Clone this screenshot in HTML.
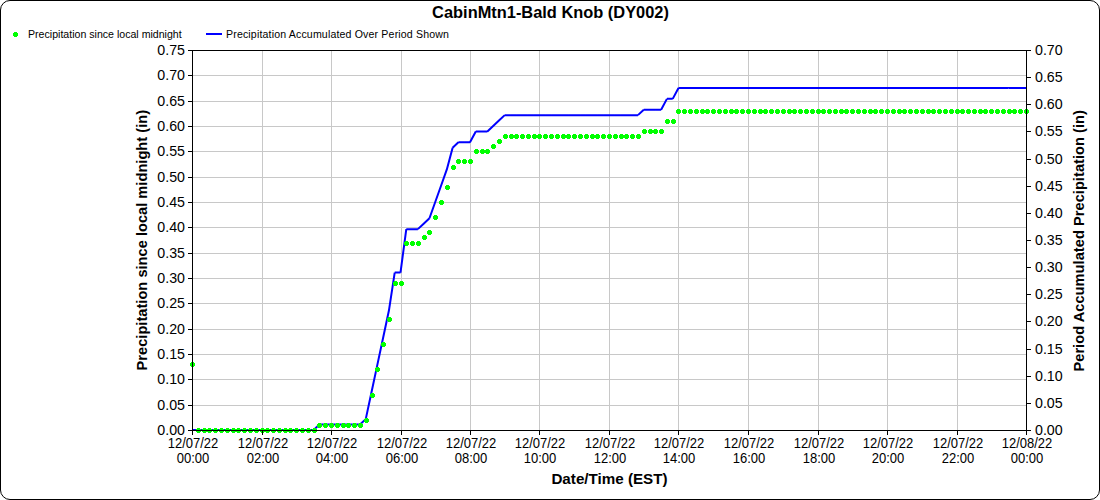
<!DOCTYPE html><html><head><meta charset="utf-8"><style>html,body{margin:0;padding:0;background:#fff;overflow:hidden;}svg{display:block;}text{font-family:"Liberation Sans", sans-serif;}</style></head><body>
<svg width="1100" height="500" viewBox="0 0 1100 500">
<rect x="0" y="0" width="1100" height="500" fill="#fff"/>
<rect x="0.5" y="0.5" width="1099" height="499" rx="9.5" ry="9.5" fill="none" stroke="#000" stroke-width="1" shape-rendering="auto"/>
<text x="550.5" y="18" text-anchor="middle" font-size="16.4" font-weight="bold" fill="#000">CabinMtn1-Bald Knob (DY002)</text>
<path d="M14 32h3v1h1v3h-1v1h-3v-1h-1v-3h1z" fill="#00ff00" shape-rendering="crispEdges"/>
<text x="28" y="38" font-size="10.6" fill="#000">Precipitation since local midnight</text>
<rect x="206" y="33" width="16" height="2" fill="#0000ff"/>
<text x="226" y="38" font-size="10.6" fill="#000" textLength="223" lengthAdjust="spacing">Precipitation Accumulated Over Period Shown</text>
<path d="M192 405.5H1026M192 379.5H1026M192 354.5H1026M192 329.5H1026M192 303.5H1026M192 278.5H1026M192 253.5H1026M192 227.5H1026M192 202.5H1026M192 177.5H1026M192 151.5H1026M192 126.5H1026M192 101.5H1026M192 75.5H1026M262.5 50V430M331.5 50V430M401.5 50V430M470.5 50V430M539.5 50V430M609.5 50V430M678.5 50V430M748.5 50V430M818.5 50V430M887.5 50V430M957.5 50V430" stroke="#c8c8c8" stroke-width="1" fill="none" shape-rendering="crispEdges"/>
<path d="M192.000 430.000L197.792 430.000M197.792 430.000L203.583 430.000M203.583 430.000L209.375 430.000M209.375 430.000L215.167 430.000M215.167 430.000L220.958 430.000M220.958 430.000L226.750 430.000M226.750 430.000L232.542 430.000M232.542 430.000L238.333 430.000M238.333 430.000L244.125 430.000M244.125 430.000L249.917 430.000M249.917 430.000L255.708 430.000M255.708 430.000L261.500 430.000M261.500 430.000L267.292 430.000M267.292 430.000L273.083 430.000M273.083 430.000L278.875 430.000M278.875 430.000L284.667 430.000M284.667 430.000L290.458 430.000M290.458 430.000L296.250 430.000M296.250 430.000L302.042 430.000M302.042 430.000L307.833 430.000M307.833 430.000L313.625 430.000M313.625 430.000L319.417 424.571M319.417 424.571L325.208 424.571M325.208 424.571L331.000 424.571M331.000 424.571L336.792 424.571M336.792 424.571L342.583 424.571M342.583 424.571L348.375 424.571M348.375 424.571L354.167 424.571M354.167 424.571L359.958 424.571M359.958 424.571L365.750 419.143M365.750 419.143L371.542 392.000M371.542 392.000L377.333 364.857M377.333 364.857L383.125 337.714M383.125 337.714L388.917 310.571M388.917 310.571L394.708 272.571M394.708 272.571L400.500 272.571M400.500 272.571L406.292 229.143M406.292 229.143L412.083 229.143M412.083 229.143L417.875 229.143M417.875 229.143L423.667 223.714M423.667 223.714L429.458 218.286M429.458 218.286L435.250 202.000M435.250 202.000L441.042 185.714M441.042 185.714L446.833 169.429M446.833 169.429L452.625 147.714M452.625 147.714L458.417 142.286M458.417 142.286L464.208 142.286M464.208 142.286L470.000 142.286M470.000 142.286L475.792 131.429M475.792 131.429L481.583 131.429M481.583 131.429L487.375 131.429M487.375 131.429L493.167 126.000M493.167 126.000L498.958 120.571M498.958 120.571L504.750 115.143M504.750 115.143L510.542 115.143M510.542 115.143L516.333 115.143M516.333 115.143L522.125 115.143M522.125 115.143L527.917 115.143M527.917 115.143L533.708 115.143M533.708 115.143L539.500 115.143M539.500 115.143L545.292 115.143M545.292 115.143L551.083 115.143M551.083 115.143L556.875 115.143M556.875 115.143L562.667 115.143M562.667 115.143L568.458 115.143M568.458 115.143L574.250 115.143M574.250 115.143L580.042 115.143M580.042 115.143L585.833 115.143M585.833 115.143L591.625 115.143M591.625 115.143L597.417 115.143M597.417 115.143L603.208 115.143M603.208 115.143L609.000 115.143M609.000 115.143L614.792 115.143M614.792 115.143L620.583 115.143M620.583 115.143L626.375 115.143M626.375 115.143L632.167 115.143M632.167 115.143L637.958 115.143M637.958 115.143L643.750 109.714M643.750 109.714L649.542 109.714M649.542 109.714L655.333 109.714M655.333 109.714L661.125 109.714M661.125 109.714L666.917 98.857M666.917 98.857L672.708 98.857M672.708 98.857L678.500 88.000M678.500 88.000L684.292 88.000M684.292 88.000L690.083 88.000M690.083 88.000L695.875 88.000M695.875 88.000L701.667 88.000M701.667 88.000L707.458 88.000M707.458 88.000L713.250 88.000M713.250 88.000L719.042 88.000M719.042 88.000L724.833 88.000M724.833 88.000L730.625 88.000M730.625 88.000L736.417 88.000M736.417 88.000L742.208 88.000M742.208 88.000L748.000 88.000M748.000 88.000L753.792 88.000M753.792 88.000L759.583 88.000M759.583 88.000L765.375 88.000M765.375 88.000L771.167 88.000M771.167 88.000L776.958 88.000M776.958 88.000L782.750 88.000M782.750 88.000L788.542 88.000M788.542 88.000L794.333 88.000M794.333 88.000L800.125 88.000M800.125 88.000L805.917 88.000M805.917 88.000L811.708 88.000M811.708 88.000L817.500 88.000M817.500 88.000L823.292 88.000M823.292 88.000L829.083 88.000M829.083 88.000L834.875 88.000M834.875 88.000L840.667 88.000M840.667 88.000L846.458 88.000M846.458 88.000L852.250 88.000M852.250 88.000L858.042 88.000M858.042 88.000L863.833 88.000M863.833 88.000L869.625 88.000M869.625 88.000L875.417 88.000M875.417 88.000L881.208 88.000M881.208 88.000L887.000 88.000M887.000 88.000L892.792 88.000M892.792 88.000L898.583 88.000M898.583 88.000L904.375 88.000M904.375 88.000L910.167 88.000M910.167 88.000L915.958 88.000M915.958 88.000L921.750 88.000M921.750 88.000L927.542 88.000M927.542 88.000L933.333 88.000M933.333 88.000L939.125 88.000M939.125 88.000L944.917 88.000M944.917 88.000L950.708 88.000M950.708 88.000L956.500 88.000M956.500 88.000L962.292 88.000M962.292 88.000L968.083 88.000M968.083 88.000L973.875 88.000M973.875 88.000L979.667 88.000M979.667 88.000L985.458 88.000M985.458 88.000L991.250 88.000M991.250 88.000L997.042 88.000M997.042 88.000L1002.833 88.000M1002.833 88.000L1008.625 88.000M1008.625 88.000L1014.417 88.000M1014.417 88.000L1020.208 88.000M1020.208 88.000L1026.000 88.000" fill="none" stroke="#0000ff" stroke-width="2" stroke-linecap="butt" stroke-linejoin="miter"/>
<path d="M191 362h3v1h1v3h-1v1h-3v-1h-1v-3h1zM197 428h3v1h1v3h-1v1h-3v-1h-1v-3h1zM203 428h3v1h1v3h-1v1h-3v-1h-1v-3h1zM208 428h3v1h1v3h-1v1h-3v-1h-1v-3h1zM214 428h3v1h1v3h-1v1h-3v-1h-1v-3h1zM220 428h3v1h1v3h-1v1h-3v-1h-1v-3h1zM226 428h3v1h1v3h-1v1h-3v-1h-1v-3h1zM232 428h3v1h1v3h-1v1h-3v-1h-1v-3h1zM237 428h3v1h1v3h-1v1h-3v-1h-1v-3h1zM243 428h3v1h1v3h-1v1h-3v-1h-1v-3h1zM249 428h3v1h1v3h-1v1h-3v-1h-1v-3h1zM255 428h3v1h1v3h-1v1h-3v-1h-1v-3h1zM261 428h3v1h1v3h-1v1h-3v-1h-1v-3h1zM266 428h3v1h1v3h-1v1h-3v-1h-1v-3h1zM272 428h3v1h1v3h-1v1h-3v-1h-1v-3h1zM278 428h3v1h1v3h-1v1h-3v-1h-1v-3h1zM284 428h3v1h1v3h-1v1h-3v-1h-1v-3h1zM289 428h3v1h1v3h-1v1h-3v-1h-1v-3h1zM295 428h3v1h1v3h-1v1h-3v-1h-1v-3h1zM301 428h3v1h1v3h-1v1h-3v-1h-1v-3h1zM307 428h3v1h1v3h-1v1h-3v-1h-1v-3h1zM313 428h3v1h1v3h-1v1h-3v-1h-1v-3h1zM318 423h3v1h1v3h-1v1h-3v-1h-1v-3h1zM324 423h3v1h1v3h-1v1h-3v-1h-1v-3h1zM330 423h3v1h1v3h-1v1h-3v-1h-1v-3h1zM336 423h3v1h1v3h-1v1h-3v-1h-1v-3h1zM342 423h3v1h1v3h-1v1h-3v-1h-1v-3h1zM347 423h3v1h1v3h-1v1h-3v-1h-1v-3h1zM353 423h3v1h1v3h-1v1h-3v-1h-1v-3h1zM359 423h3v1h1v3h-1v1h-3v-1h-1v-3h1zM365 418h3v1h1v3h-1v1h-3v-1h-1v-3h1zM371 393h3v1h1v3h-1v1h-3v-1h-1v-3h1zM376 367h3v1h1v3h-1v1h-3v-1h-1v-3h1zM382 342h3v1h1v3h-1v1h-3v-1h-1v-3h1zM388 317h3v1h1v3h-1v1h-3v-1h-1v-3h1zM394 281h3v1h1v3h-1v1h-3v-1h-1v-3h1zM400 281h3v1h1v3h-1v1h-3v-1h-1v-3h1zM405 241h3v1h1v3h-1v1h-3v-1h-1v-3h1zM411 241h3v1h1v3h-1v1h-3v-1h-1v-3h1zM417 241h3v1h1v3h-1v1h-3v-1h-1v-3h1zM423 235h3v1h1v3h-1v1h-3v-1h-1v-3h1zM428 230h3v1h1v3h-1v1h-3v-1h-1v-3h1zM434 215h3v1h1v3h-1v1h-3v-1h-1v-3h1zM440 200h3v1h1v3h-1v1h-3v-1h-1v-3h1zM446 185h3v1h1v3h-1v1h-3v-1h-1v-3h1zM452 165h3v1h1v3h-1v1h-3v-1h-1v-3h1zM457 159h3v1h1v3h-1v1h-3v-1h-1v-3h1zM463 159h3v1h1v3h-1v1h-3v-1h-1v-3h1zM469 159h3v1h1v3h-1v1h-3v-1h-1v-3h1zM475 149h3v1h1v3h-1v1h-3v-1h-1v-3h1zM481 149h3v1h1v3h-1v1h-3v-1h-1v-3h1zM486 149h3v1h1v3h-1v1h-3v-1h-1v-3h1zM492 144h3v1h1v3h-1v1h-3v-1h-1v-3h1zM498 139h3v1h1v3h-1v1h-3v-1h-1v-3h1zM504 134h3v1h1v3h-1v1h-3v-1h-1v-3h1zM510 134h3v1h1v3h-1v1h-3v-1h-1v-3h1zM515 134h3v1h1v3h-1v1h-3v-1h-1v-3h1zM521 134h3v1h1v3h-1v1h-3v-1h-1v-3h1zM527 134h3v1h1v3h-1v1h-3v-1h-1v-3h1zM533 134h3v1h1v3h-1v1h-3v-1h-1v-3h1zM538 134h3v1h1v3h-1v1h-3v-1h-1v-3h1zM544 134h3v1h1v3h-1v1h-3v-1h-1v-3h1zM550 134h3v1h1v3h-1v1h-3v-1h-1v-3h1zM556 134h3v1h1v3h-1v1h-3v-1h-1v-3h1zM562 134h3v1h1v3h-1v1h-3v-1h-1v-3h1zM567 134h3v1h1v3h-1v1h-3v-1h-1v-3h1zM573 134h3v1h1v3h-1v1h-3v-1h-1v-3h1zM579 134h3v1h1v3h-1v1h-3v-1h-1v-3h1zM585 134h3v1h1v3h-1v1h-3v-1h-1v-3h1zM591 134h3v1h1v3h-1v1h-3v-1h-1v-3h1zM596 134h3v1h1v3h-1v1h-3v-1h-1v-3h1zM602 134h3v1h1v3h-1v1h-3v-1h-1v-3h1zM608 134h3v1h1v3h-1v1h-3v-1h-1v-3h1zM614 134h3v1h1v3h-1v1h-3v-1h-1v-3h1zM620 134h3v1h1v3h-1v1h-3v-1h-1v-3h1zM625 134h3v1h1v3h-1v1h-3v-1h-1v-3h1zM631 134h3v1h1v3h-1v1h-3v-1h-1v-3h1zM637 134h3v1h1v3h-1v1h-3v-1h-1v-3h1zM643 129h3v1h1v3h-1v1h-3v-1h-1v-3h1zM649 129h3v1h1v3h-1v1h-3v-1h-1v-3h1zM654 129h3v1h1v3h-1v1h-3v-1h-1v-3h1zM660 129h3v1h1v3h-1v1h-3v-1h-1v-3h1zM666 119h3v1h1v3h-1v1h-3v-1h-1v-3h1zM672 119h3v1h1v3h-1v1h-3v-1h-1v-3h1zM677 109h3v1h1v3h-1v1h-3v-1h-1v-3h1zM683 109h3v1h1v3h-1v1h-3v-1h-1v-3h1zM689 109h3v1h1v3h-1v1h-3v-1h-1v-3h1zM695 109h3v1h1v3h-1v1h-3v-1h-1v-3h1zM701 109h3v1h1v3h-1v1h-3v-1h-1v-3h1zM706 109h3v1h1v3h-1v1h-3v-1h-1v-3h1zM712 109h3v1h1v3h-1v1h-3v-1h-1v-3h1zM718 109h3v1h1v3h-1v1h-3v-1h-1v-3h1zM724 109h3v1h1v3h-1v1h-3v-1h-1v-3h1zM730 109h3v1h1v3h-1v1h-3v-1h-1v-3h1zM735 109h3v1h1v3h-1v1h-3v-1h-1v-3h1zM741 109h3v1h1v3h-1v1h-3v-1h-1v-3h1zM747 109h3v1h1v3h-1v1h-3v-1h-1v-3h1zM753 109h3v1h1v3h-1v1h-3v-1h-1v-3h1zM759 109h3v1h1v3h-1v1h-3v-1h-1v-3h1zM764 109h3v1h1v3h-1v1h-3v-1h-1v-3h1zM770 109h3v1h1v3h-1v1h-3v-1h-1v-3h1zM776 109h3v1h1v3h-1v1h-3v-1h-1v-3h1zM782 109h3v1h1v3h-1v1h-3v-1h-1v-3h1zM788 109h3v1h1v3h-1v1h-3v-1h-1v-3h1zM793 109h3v1h1v3h-1v1h-3v-1h-1v-3h1zM799 109h3v1h1v3h-1v1h-3v-1h-1v-3h1zM805 109h3v1h1v3h-1v1h-3v-1h-1v-3h1zM811 109h3v1h1v3h-1v1h-3v-1h-1v-3h1zM817 109h3v1h1v3h-1v1h-3v-1h-1v-3h1zM822 109h3v1h1v3h-1v1h-3v-1h-1v-3h1zM828 109h3v1h1v3h-1v1h-3v-1h-1v-3h1zM834 109h3v1h1v3h-1v1h-3v-1h-1v-3h1zM840 109h3v1h1v3h-1v1h-3v-1h-1v-3h1zM845 109h3v1h1v3h-1v1h-3v-1h-1v-3h1zM851 109h3v1h1v3h-1v1h-3v-1h-1v-3h1zM857 109h3v1h1v3h-1v1h-3v-1h-1v-3h1zM863 109h3v1h1v3h-1v1h-3v-1h-1v-3h1zM869 109h3v1h1v3h-1v1h-3v-1h-1v-3h1zM874 109h3v1h1v3h-1v1h-3v-1h-1v-3h1zM880 109h3v1h1v3h-1v1h-3v-1h-1v-3h1zM886 109h3v1h1v3h-1v1h-3v-1h-1v-3h1zM892 109h3v1h1v3h-1v1h-3v-1h-1v-3h1zM898 109h3v1h1v3h-1v1h-3v-1h-1v-3h1zM903 109h3v1h1v3h-1v1h-3v-1h-1v-3h1zM909 109h3v1h1v3h-1v1h-3v-1h-1v-3h1zM915 109h3v1h1v3h-1v1h-3v-1h-1v-3h1zM921 109h3v1h1v3h-1v1h-3v-1h-1v-3h1zM927 109h3v1h1v3h-1v1h-3v-1h-1v-3h1zM932 109h3v1h1v3h-1v1h-3v-1h-1v-3h1zM938 109h3v1h1v3h-1v1h-3v-1h-1v-3h1zM944 109h3v1h1v3h-1v1h-3v-1h-1v-3h1zM950 109h3v1h1v3h-1v1h-3v-1h-1v-3h1zM956 109h3v1h1v3h-1v1h-3v-1h-1v-3h1zM961 109h3v1h1v3h-1v1h-3v-1h-1v-3h1zM967 109h3v1h1v3h-1v1h-3v-1h-1v-3h1zM973 109h3v1h1v3h-1v1h-3v-1h-1v-3h1zM979 109h3v1h1v3h-1v1h-3v-1h-1v-3h1zM984 109h3v1h1v3h-1v1h-3v-1h-1v-3h1zM990 109h3v1h1v3h-1v1h-3v-1h-1v-3h1zM996 109h3v1h1v3h-1v1h-3v-1h-1v-3h1zM1002 109h3v1h1v3h-1v1h-3v-1h-1v-3h1zM1008 109h3v1h1v3h-1v1h-3v-1h-1v-3h1zM1013 109h3v1h1v3h-1v1h-3v-1h-1v-3h1zM1019 109h3v1h1v3h-1v1h-3v-1h-1v-3h1zM1025 109h3v1h1v3h-1v1h-3v-1h-1v-3h1z" fill="#00ff00" shape-rendering="crispEdges"/>
<path d="M192.5 50V431M1026.5 50V431M192 50.5H1027M192 430.5H1027M188 430.5H192M188 405.5H192M188 379.5H192M188 354.5H192M188 329.5H192M188 303.5H192M188 278.5H192M188 253.5H192M188 227.5H192M188 202.5H192M188 177.5H192M188 151.5H192M188 126.5H192M188 101.5H192M188 75.5H192M188 50.5H192M1027 430.5H1031M1027 403.5H1031M1027 376.5H1031M1027 349.5H1031M1027 321.5H1031M1027 294.5H1031M1027 267.5H1031M1027 240.5H1031M1027 213.5H1031M1027 186.5H1031M1027 159.5H1031M1027 131.5H1031M1027 104.5H1031M1027 77.5H1031M1027 50.5H1031M192.5 431V435M262.5 431V435M331.5 431V435M401.5 431V435M470.5 431V435M539.5 431V435M609.5 431V435M678.5 431V435M748.5 431V435M818.5 431V435M887.5 431V435M957.5 431V435M1026.5 431V435" stroke="#000" stroke-width="1" fill="none" shape-rendering="crispEdges"/>
<text transform="translate(185 435.40) scale(0.95 1)" text-anchor="end" font-size="15" fill="#000">0.00</text>
<text transform="translate(185 410.40) scale(0.95 1)" text-anchor="end" font-size="15" fill="#000">0.05</text>
<text transform="translate(185 384.40) scale(0.95 1)" text-anchor="end" font-size="15" fill="#000">0.10</text>
<text transform="translate(185 359.40) scale(0.95 1)" text-anchor="end" font-size="15" fill="#000">0.15</text>
<text transform="translate(185 334.40) scale(0.95 1)" text-anchor="end" font-size="15" fill="#000">0.20</text>
<text transform="translate(185 308.40) scale(0.95 1)" text-anchor="end" font-size="15" fill="#000">0.25</text>
<text transform="translate(185 283.40) scale(0.95 1)" text-anchor="end" font-size="15" fill="#000">0.30</text>
<text transform="translate(185 258.40) scale(0.95 1)" text-anchor="end" font-size="15" fill="#000">0.35</text>
<text transform="translate(185 232.40) scale(0.95 1)" text-anchor="end" font-size="15" fill="#000">0.40</text>
<text transform="translate(185 207.40) scale(0.95 1)" text-anchor="end" font-size="15" fill="#000">0.45</text>
<text transform="translate(185 182.40) scale(0.95 1)" text-anchor="end" font-size="15" fill="#000">0.50</text>
<text transform="translate(185 156.40) scale(0.95 1)" text-anchor="end" font-size="15" fill="#000">0.55</text>
<text transform="translate(185 131.40) scale(0.95 1)" text-anchor="end" font-size="15" fill="#000">0.60</text>
<text transform="translate(185 106.40) scale(0.95 1)" text-anchor="end" font-size="15" fill="#000">0.65</text>
<text transform="translate(185 80.40) scale(0.95 1)" text-anchor="end" font-size="15" fill="#000">0.70</text>
<text transform="translate(185 55.40) scale(0.95 1)" text-anchor="end" font-size="15" fill="#000">0.75</text>
<text transform="translate(1035 435.40) scale(0.95 1)" font-size="15" fill="#000">0.00</text>
<text transform="translate(1035 408.40) scale(0.95 1)" font-size="15" fill="#000">0.05</text>
<text transform="translate(1035 381.40) scale(0.95 1)" font-size="15" fill="#000">0.10</text>
<text transform="translate(1035 354.40) scale(0.95 1)" font-size="15" fill="#000">0.15</text>
<text transform="translate(1035 326.40) scale(0.95 1)" font-size="15" fill="#000">0.20</text>
<text transform="translate(1035 299.40) scale(0.95 1)" font-size="15" fill="#000">0.25</text>
<text transform="translate(1035 272.40) scale(0.95 1)" font-size="15" fill="#000">0.30</text>
<text transform="translate(1035 245.40) scale(0.95 1)" font-size="15" fill="#000">0.35</text>
<text transform="translate(1035 218.40) scale(0.95 1)" font-size="15" fill="#000">0.40</text>
<text transform="translate(1035 191.40) scale(0.95 1)" font-size="15" fill="#000">0.45</text>
<text transform="translate(1035 164.40) scale(0.95 1)" font-size="15" fill="#000">0.50</text>
<text transform="translate(1035 136.40) scale(0.95 1)" font-size="15" fill="#000">0.55</text>
<text transform="translate(1035 109.40) scale(0.95 1)" font-size="15" fill="#000">0.60</text>
<text transform="translate(1035 82.40) scale(0.95 1)" font-size="15" fill="#000">0.65</text>
<text transform="translate(1035 55.40) scale(0.95 1)" font-size="15" fill="#000">0.70</text>
<text transform="translate(193.00 448) scale(0.93 1)" text-anchor="middle" font-size="14" fill="#000">12/07/22</text>
<text transform="translate(193.00 463) scale(0.93 1)" text-anchor="middle" font-size="14" fill="#000">00:00</text>
<text transform="translate(263.00 448) scale(0.93 1)" text-anchor="middle" font-size="14" fill="#000">12/07/22</text>
<text transform="translate(263.00 463) scale(0.93 1)" text-anchor="middle" font-size="14" fill="#000">02:00</text>
<text transform="translate(332.00 448) scale(0.93 1)" text-anchor="middle" font-size="14" fill="#000">12/07/22</text>
<text transform="translate(332.00 463) scale(0.93 1)" text-anchor="middle" font-size="14" fill="#000">04:00</text>
<text transform="translate(402.00 448) scale(0.93 1)" text-anchor="middle" font-size="14" fill="#000">12/07/22</text>
<text transform="translate(402.00 463) scale(0.93 1)" text-anchor="middle" font-size="14" fill="#000">06:00</text>
<text transform="translate(471.00 448) scale(0.93 1)" text-anchor="middle" font-size="14" fill="#000">12/07/22</text>
<text transform="translate(471.00 463) scale(0.93 1)" text-anchor="middle" font-size="14" fill="#000">08:00</text>
<text transform="translate(540.00 448) scale(0.93 1)" text-anchor="middle" font-size="14" fill="#000">12/07/22</text>
<text transform="translate(540.00 463) scale(0.93 1)" text-anchor="middle" font-size="14" fill="#000">10:00</text>
<text transform="translate(610.00 448) scale(0.93 1)" text-anchor="middle" font-size="14" fill="#000">12/07/22</text>
<text transform="translate(610.00 463) scale(0.93 1)" text-anchor="middle" font-size="14" fill="#000">12:00</text>
<text transform="translate(679.00 448) scale(0.93 1)" text-anchor="middle" font-size="14" fill="#000">12/07/22</text>
<text transform="translate(679.00 463) scale(0.93 1)" text-anchor="middle" font-size="14" fill="#000">14:00</text>
<text transform="translate(749.00 448) scale(0.93 1)" text-anchor="middle" font-size="14" fill="#000">12/07/22</text>
<text transform="translate(749.00 463) scale(0.93 1)" text-anchor="middle" font-size="14" fill="#000">16:00</text>
<text transform="translate(819.00 448) scale(0.93 1)" text-anchor="middle" font-size="14" fill="#000">12/07/22</text>
<text transform="translate(819.00 463) scale(0.93 1)" text-anchor="middle" font-size="14" fill="#000">18:00</text>
<text transform="translate(888.00 448) scale(0.93 1)" text-anchor="middle" font-size="14" fill="#000">12/07/22</text>
<text transform="translate(888.00 463) scale(0.93 1)" text-anchor="middle" font-size="14" fill="#000">20:00</text>
<text transform="translate(958.00 448) scale(0.93 1)" text-anchor="middle" font-size="14" fill="#000">12/07/22</text>
<text transform="translate(958.00 463) scale(0.93 1)" text-anchor="middle" font-size="14" fill="#000">22:00</text>
<text transform="translate(1027.00 448) scale(0.93 1)" text-anchor="middle" font-size="14" fill="#000">12/08/22</text>
<text transform="translate(1027.00 463) scale(0.93 1)" text-anchor="middle" font-size="14" fill="#000">00:00</text>
<text x="609.5" y="484" text-anchor="middle" font-size="15.2" font-weight="bold" fill="#000">Date/Time (EST)</text>
<text transform="translate(147 240.2) rotate(-90)" text-anchor="middle" font-size="14.6" font-weight="bold" fill="#000" textLength="260.5" lengthAdjust="spacing">Precipitation since local midnight (in)</text>
<text transform="translate(1084 240.8) rotate(-90)" text-anchor="middle" font-size="14.6" font-weight="bold" fill="#000" textLength="261.5" lengthAdjust="spacing">Period Accumulated Precipitation (in)</text>
</svg></body></html>
